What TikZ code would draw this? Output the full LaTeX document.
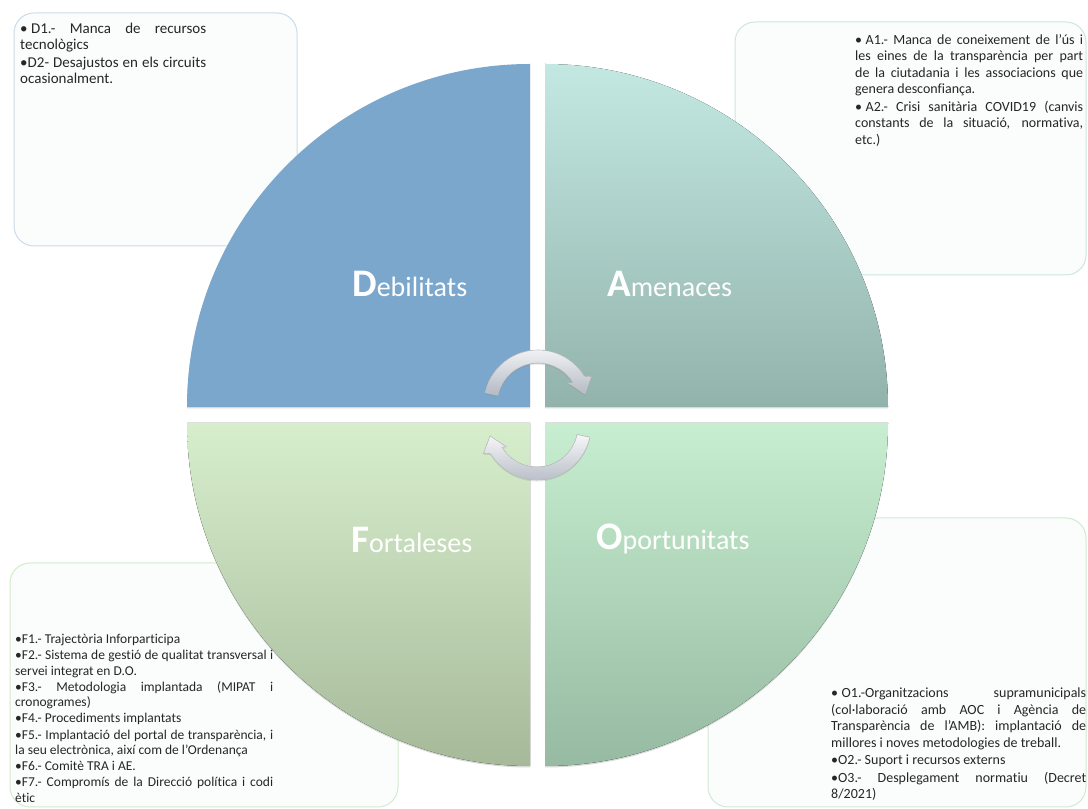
\documentclass[tikz,border=0pt]{standalone}
\usepackage{fontspec}
\setmainfont{Carlito}[Ligatures=NoCommon]
\usetikzlibrary{shadows}
\hyphenpenalty=10000
\exhyphenpenalty=10000
\tolerance=9999
\emergencystretch=3em

\definecolor{debil}{HTML}{7BA7CC}
\definecolor{amenTop}{HTML}{C3E8E2}
\definecolor{amenBot}{HTML}{92B3AC}
\definecolor{fortTop}{HTML}{D7EECD}
\definecolor{fortBot}{HTML}{A6BA9A}
\definecolor{oporTop}{HTML}{C7EED0}
\definecolor{oporBot}{HTML}{96BAA2}
\definecolor{boxfill}{HTML}{FBFCFC}
\definecolor{lineD}{HTML}{CCDBE9}
\definecolor{lineA}{HTML}{CDE6E0}
\definecolor{lineF}{HTML}{D4EBCC}
\definecolor{lineO}{HTML}{D0EAD6}
\definecolor{arrowTop}{HTML}{F6F7F9}
\definecolor{arrowBot}{HTML}{B3B9C3}

\tikzset{
  infobox/.style={fill=boxfill, line width=1pt, rounded corners=20pt},
  infotext/.style={anchor=north west, inner sep=0pt, align=justify, text=black!85,
    font=\fontsize{14}{16.5}\selectfont, execute at begin node={\setlength{\parskip}{1pt}}},
  quarter/.style={drop shadow={shadow xshift=0pt, shadow yshift=-1.5pt, opacity=.3, fill=gray}},
  swot/.style={text=white, inner sep=0pt, anchor=base west, font=\fontsize{28}{28}\selectfont},
  cyclearrow/.style={draw=gray!45, line width=.6pt, top color=arrowTop, bottom color=arrowBot,
    drop shadow={shadow xshift=0pt, shadow yshift=-1.5pt, opacity=.2, fill=gray}}
}
\newcommand{\bigini}[1]{{\fontsize{39}{39}\selectfont\bfseries #1}}
\newcommand{\bul}{\textbullet\hspace{3.5pt}}

\begin{document}
\begin{tikzpicture}[x=1pt,y=1pt]
\useasboundingbox (0,0) rectangle (1088,809);
\fill[white] (0,0) rectangle (1088,809);

% text boxes behind the circle
\draw[infobox, draw=lineD] (14,563) rectangle (297,796);
\draw[infobox, draw=lineA] (735,534) rectangle (1086,787);
\draw[infobox, draw=lineF] (10,2) rectangle (398,246);
\draw[infobox, draw=lineO] (708,2) rectangle (1086,291);

% the four quadrants
\fill[debil, quarter] (530,402) -- (187,402) arc[start angle=180, end angle=90, radius=343pt] -- cycle;
\fill[quarter, top color=amenTop, bottom color=amenBot]
    (545,402) -- (545,745) arc[start angle=90, end angle=0, radius=343pt] -- cycle;
\fill[quarter, top color=fortTop, bottom color=fortBot]
    (530,386) -- (187,386) arc[start angle=180, end angle=270, radius=343pt] -- cycle;
\fill[quarter, top color=oporTop, bottom color=oporBot]
    (545,386) -- (888,386) arc[start angle=0, end angle=-90, radius=343pt] -- cycle;

\node[swot] (deb) at (352,512) {\bigini{D}ebilitats};
\node[swot] (ame) at (607,512) {\bigini{A}menaces};
\node[swot] (fort) at (351,256) {\bigini{F}ortaleses};
\node[swot] (opor) at (596,259) {\bigini{O}portunitats};

% cycle arrows
\begin{scope}[shift={(538,405)}]
\filldraw[cyclearrow] (168:54) arc[start angle=168, end angle=31, radius=54pt] -- (27:60) -- (12:48)
    -- (34:37) -- (31:41) arc[start angle=31, end angle=168, radius=41pt] -- cycle;
\end{scope}
\begin{scope}[shift={(537,383)}]
\filldraw[cyclearrow] (348:54) arc[start angle=348, end angle=211, radius=54pt] -- (207:60) -- (192:48)
    -- (214:37) -- (211:41) arc[start angle=211, end angle=348, radius=41pt] -- cycle;
\end{scope}

\node[infotext, text width=186pt, font=\fontsize{15}{15.5}\selectfont,
    execute at begin node={\setlength{\parskip}{3pt}}] (dtext) at (20,786) {%
\bul D1.- Manca de recursos\linebreak tecnològics\par
\textbullet D2- Desajustos en els circuits\linebreak ocasionalment.};

\node[infotext, text width=228pt] (atext) at (855,775) {%
\bul A1.- Manca de coneixement de l’ús i\linebreak les eines de la transparència per part\linebreak
de la ciutadania i les associacions que\linebreak genera desconfiança.\par
\bul A2.- Crisi sanitària COVID19 (canvis\linebreak constants de la situació, normativa,\linebreak etc.)};

\node[infotext, text width=258pt, font=\fontsize{13.5}{15.6}\selectfont,
    execute at begin node={\setlength{\parskip}{0.5pt}}] (ftext) at (15,175) {%
\textbullet F1.- Trajectòria Inforparticipa\par
\textbullet F2.- Sistema de gestió de qualitat transversal i\linebreak servei integrat en D.O.\par
\textbullet F3.- Metodologia implantada (MIPAT i\linebreak cronogrames)\par
\textbullet F4.- Procediments implantats\par
\textbullet F5.- Implantació del portal de transparència, i\linebreak la seu electrònica, així com de l’Ordenança\par
\textbullet F6.- Comitè TRA i AE.\par
\textbullet F7.- Compromís de la Direcció política i codi\linebreak ètic};

\node[infotext, text width=255pt] (otext) at (831,121) {%
\bul O1.-Organitzacions supramunicipals\linebreak (col·laboració amb AOC i Agència de\linebreak
Transparència de l’AMB): implantació de\linebreak millores i noves metodologies de treball.\par
\textbullet O2.- Suport i recursos externs\par
\textbullet O3.- Desplegament normatiu (Decret\linebreak 8/2021)};
\end{tikzpicture}
\end{document}
